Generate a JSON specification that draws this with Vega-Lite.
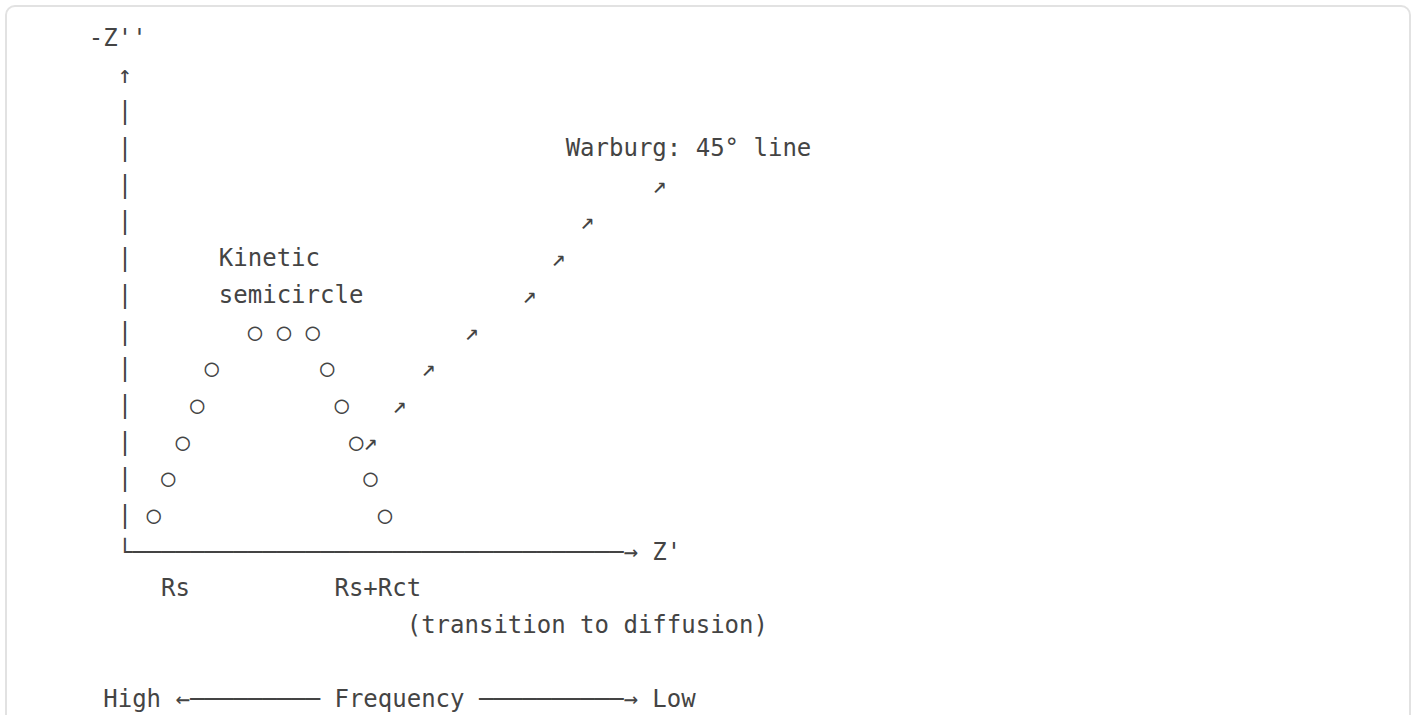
{
  "$schema": "https://vega.github.io/schema/vega-lite/v6.json",
  "width": 1416,
  "height": 715,
  "autosize": {"type": "fit", "contains": "padding"},
  "padding": {"left": 6, "top": 6, "right": 6, "bottom": -20},
  "background": "white",
  "config": {
    "view": {"stroke": "#e2e2e2", "strokeWidth": 2, "cornerRadius": 9}
  },
  "data": {
    "values": [
      {"line": 0, "col": 4, "text": "-Z''"},
      {"line": 1, "col": 6, "text": "↑"},
      {"line": 2, "col": 6, "text": "|"},
      {"line": 3, "col": 6, "text": "|"},
      {"line": 3, "col": 37, "text": "Warburg: 45° line"},
      {"line": 4, "col": 6, "text": "|"},
      {"line": 4, "col": 43, "text": "↗"},
      {"line": 5, "col": 6, "text": "|"},
      {"line": 5, "col": 38, "text": "↗"},
      {"line": 6, "col": 6, "text": "|"},
      {"line": 6, "col": 13, "text": "Kinetic"},
      {"line": 6, "col": 36, "text": "↗"},
      {"line": 7, "col": 6, "text": "|"},
      {"line": 7, "col": 13, "text": "semicircle"},
      {"line": 7, "col": 34, "text": "↗"},
      {"line": 8, "col": 6, "text": "|"},
      {"line": 8, "col": 15, "text": "○ ○ ○"},
      {"line": 8, "col": 30, "text": "↗"},
      {"line": 9, "col": 6, "text": "|"},
      {"line": 9, "col": 12, "text": "○"},
      {"line": 9, "col": 20, "text": "○"},
      {"line": 9, "col": 27, "text": "↗"},
      {"line": 10, "col": 6, "text": "|"},
      {"line": 10, "col": 11, "text": "○"},
      {"line": 10, "col": 21, "text": "○"},
      {"line": 10, "col": 25, "text": "↗"},
      {"line": 11, "col": 6, "text": "|"},
      {"line": 11, "col": 10, "text": "○"},
      {"line": 11, "col": 22, "text": "○↗"},
      {"line": 12, "col": 6, "text": "|"},
      {"line": 12, "col": 9, "text": "○"},
      {"line": 12, "col": 23, "text": "○"},
      {"line": 13, "col": 6, "text": "|"},
      {"line": 13, "col": 8, "text": "○"},
      {"line": 13, "col": 24, "text": "○"},
      {"line": 14, "col": 6, "text": "└──────────────────────────────────→ Z'"},
      {"line": 15, "col": 9, "text": "Rs"},
      {"line": 15, "col": 21, "text": "Rs+Rct"},
      {"line": 16, "col": 26, "text": "(transition to diffusion)"},
      {"line": 18, "col": 5, "text": "High ←───────── Frequency ──────────→ Low"}
    ]
  },
  "mark": {
    "type": "text",
    "font": "DejaVu Sans Mono",
    "fontSize": 24,
    "align": "left",
    "baseline": "alphabetic",
    "color": "#444444"
  },
  "encoding": {
    "x": {
      "field": "col",
      "type": "quantitative",
      "axis": null,
      "scale": {"domain": [-1.7301, 95.4325], "zero": false, "nice": false}
    },
    "y": {
      "field": "line",
      "type": "quantitative",
      "axis": null,
      "scale": {"domain": [-1.0899, 18.7739], "zero": false, "nice": false, "reverse": true}
    },
    "text": {"field": "text"}
  }
}
